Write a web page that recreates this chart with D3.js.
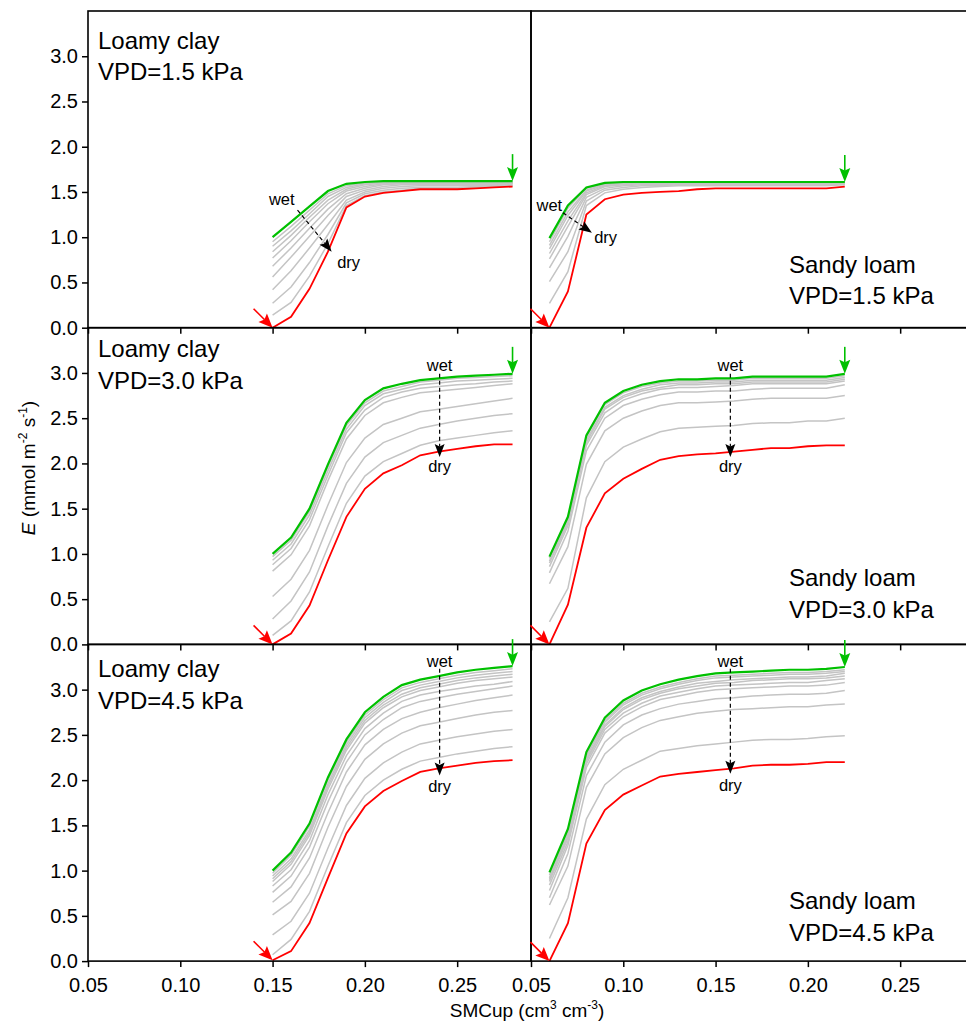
<!DOCTYPE html>
<html>
<head>
<meta charset="utf-8">
<script src="https://cdn.jsdelivr.net/npm/d3@7"></script>
<style>
  body { margin: 0; background: #fff; }
  svg { display: block; font-family: "Liberation Sans", Arial, sans-serif; }
</style>
</head>
<body>
<svg id="chart" width="966" height="1025"></svg>
<script>
// SMCup values (cm3 cm-3) for each soil.
const lcX = [0.15, 0.16, 0.17, 0.18, 0.19, 0.20, 0.21, 0.22, 0.23, 0.24, 0.25, 0.26, 0.27, 0.28];
const slX = [0.06, 0.07, 0.08, 0.09, 0.10, 0.11, 0.12, 0.13, 0.14, 0.15, 0.16, 0.17, 0.18, 0.19, 0.20, 0.21, 0.22];

const xTicks = [0.05, 0.10, 0.15, 0.20, 0.25];
const yTicks = [0, 0.5, 1.0, 1.5, 2.0, 2.5, 3.0];

// Loamy clay, VPD = 1.5 kPa
const lc15Green = [1.00, 1.17, 1.34, 1.51, 1.59, 1.61, 1.62, 1.62, 1.62, 1.62, 1.62, 1.62, 1.62, 1.62];
const lc15Red = [0.00, 0.12, 0.43, 0.84, 1.33, 1.45, 1.49, 1.51, 1.53, 1.53, 1.53, 1.54, 1.55, 1.56];
const lc15Gray = [
  [0.95, 1.12, 1.30, 1.48, 1.57, 1.60, 1.61, 1.61, 1.61, 1.61, 1.61, 1.61, 1.61, 1.61],
  [0.90, 1.07, 1.26, 1.45, 1.55, 1.59, 1.60, 1.61, 1.61, 1.61, 1.61, 1.61, 1.61, 1.61],
  [0.84, 1.02, 1.22, 1.41, 1.53, 1.58, 1.60, 1.60, 1.60, 1.60, 1.60, 1.60, 1.60, 1.60],
  [0.77, 0.96, 1.17, 1.37, 1.51, 1.56, 1.59, 1.60, 1.60, 1.60, 1.60, 1.60, 1.60, 1.60],
  [0.68, 0.88, 1.10, 1.31, 1.48, 1.54, 1.58, 1.59, 1.59, 1.59, 1.59, 1.59, 1.59, 1.59],
  [0.56, 0.78, 1.01, 1.24, 1.45, 1.52, 1.56, 1.58, 1.58, 1.58, 1.58, 1.58, 1.58, 1.59],
  [0.42, 0.63, 0.88, 1.14, 1.41, 1.50, 1.54, 1.56, 1.57, 1.57, 1.57, 1.57, 1.57, 1.58],
  [0.27, 0.45, 0.72, 1.03, 1.38, 1.48, 1.52, 1.54, 1.55, 1.55, 1.55, 1.56, 1.57, 1.57],
  [0.14, 0.28, 0.57, 0.93, 1.35, 1.46, 1.50, 1.52, 1.54, 1.54, 1.54, 1.55, 1.56, 1.57]
];

// Sandy loam, VPD = 1.5 kPa
const sl15Green = [0.99, 1.35, 1.55, 1.60, 1.61, 1.61, 1.61, 1.61, 1.61, 1.61, 1.61, 1.61, 1.61, 1.61, 1.61, 1.61, 1.61];
const sl15Red = [0.00, 0.40, 1.25, 1.42, 1.47, 1.49, 1.50, 1.51, 1.53, 1.54, 1.54, 1.54, 1.54, 1.54, 1.54, 1.54, 1.56];
const sl15Gray = [
  [0.95, 1.32, 1.54, 1.59, 1.61, 1.61, 1.61, 1.61, 1.61, 1.61, 1.61, 1.61, 1.61, 1.61, 1.61, 1.61, 1.61],
  [0.91, 1.28, 1.52, 1.59, 1.60, 1.61, 1.61, 1.61, 1.61, 1.61, 1.61, 1.61, 1.61, 1.61, 1.61, 1.61, 1.61],
  [0.87, 1.24, 1.51, 1.58, 1.60, 1.60, 1.60, 1.60, 1.60, 1.60, 1.60, 1.60, 1.60, 1.60, 1.60, 1.60, 1.60],
  [0.82, 1.18, 1.49, 1.57, 1.59, 1.60, 1.60, 1.60, 1.60, 1.60, 1.60, 1.60, 1.60, 1.60, 1.60, 1.60, 1.60],
  [0.76, 1.12, 1.47, 1.56, 1.58, 1.59, 1.59, 1.59, 1.59, 1.59, 1.59, 1.59, 1.59, 1.59, 1.59, 1.59, 1.60],
  [0.66, 1.01, 1.44, 1.54, 1.57, 1.58, 1.58, 1.59, 1.59, 1.59, 1.59, 1.59, 1.59, 1.59, 1.59, 1.59, 1.59],
  [0.51, 0.84, 1.40, 1.52, 1.55, 1.57, 1.57, 1.58, 1.58, 1.58, 1.58, 1.58, 1.58, 1.58, 1.58, 1.58, 1.59],
  [0.27, 0.62, 1.35, 1.49, 1.53, 1.55, 1.56, 1.57, 1.57, 1.57, 1.57, 1.57, 1.57, 1.57, 1.57, 1.57, 1.58]
];

// Loamy clay, VPD = 3.0 kPa
const lc30Green = [1.00, 1.18, 1.50, 1.99, 2.45, 2.70, 2.83, 2.88, 2.92, 2.94, 2.96, 2.97, 2.98, 2.99];
const lc30Red = [0.00, 0.12, 0.43, 0.93, 1.41, 1.72, 1.89, 1.98, 2.09, 2.13, 2.16, 2.19, 2.21, 2.21];
const lc30Gray = [
  [0.97, 1.15, 1.47, 1.96, 2.42, 2.67, 2.80, 2.85, 2.90, 2.92, 2.94, 2.95, 2.96, 2.97],
  [0.93, 1.11, 1.43, 1.92, 2.38, 2.64, 2.77, 2.82, 2.87, 2.89, 2.91, 2.92, 2.93, 2.94],
  [0.88, 1.06, 1.38, 1.87, 2.34, 2.59, 2.73, 2.79, 2.83, 2.85, 2.87, 2.88, 2.90, 2.91],
  [0.81, 0.99, 1.31, 1.81, 2.27, 2.53, 2.67, 2.73, 2.78, 2.80, 2.82, 2.84, 2.86, 2.88],
  [0.53, 0.72, 1.04, 1.54, 2.01, 2.28, 2.43, 2.50, 2.57, 2.60, 2.63, 2.66, 2.69, 2.72],
  [0.28, 0.48, 0.80, 1.31, 1.78, 2.07, 2.23, 2.31, 2.39, 2.43, 2.47, 2.50, 2.53, 2.55],
  [0.10, 0.26, 0.58, 1.08, 1.56, 1.86, 2.02, 2.11, 2.20, 2.25, 2.28, 2.31, 2.34, 2.36]
];

// Sandy loam, VPD = 3.0 kPa
const sl30Green = [0.97, 1.41, 2.31, 2.67, 2.80, 2.87, 2.91, 2.93, 2.93, 2.94, 2.94, 2.96, 2.96, 2.96, 2.96, 2.96, 2.99];
const sl30Red = [0.00, 0.44, 1.29, 1.67, 1.83, 1.94, 2.04, 2.08, 2.10, 2.11, 2.13, 2.15, 2.17, 2.17, 2.19, 2.20, 2.20];
const sl30Gray = [
  [0.95, 1.39, 2.29, 2.65, 2.78, 2.85, 2.89, 2.91, 2.91, 2.92, 2.92, 2.94, 2.94, 2.94, 2.94, 2.94, 2.97],
  [0.92, 1.36, 2.26, 2.62, 2.75, 2.82, 2.87, 2.89, 2.89, 2.90, 2.90, 2.92, 2.92, 2.92, 2.92, 2.92, 2.95],
  [0.90, 1.34, 2.23, 2.60, 2.73, 2.80, 2.84, 2.87, 2.87, 2.88, 2.88, 2.90, 2.90, 2.90, 2.90, 2.90, 2.93],
  [0.86, 1.31, 2.20, 2.56, 2.70, 2.77, 2.82, 2.84, 2.84, 2.85, 2.86, 2.88, 2.88, 2.88, 2.88, 2.88, 2.91],
  [0.79, 1.25, 2.14, 2.50, 2.64, 2.71, 2.76, 2.79, 2.79, 2.80, 2.80, 2.82, 2.83, 2.83, 2.83, 2.83, 2.87],
  [0.67, 1.08, 1.99, 2.36, 2.50, 2.58, 2.64, 2.67, 2.67, 2.68, 2.69, 2.71, 2.72, 2.72, 2.72, 2.72, 2.75],
  [0.25, 0.62, 1.62, 2.02, 2.18, 2.27, 2.35, 2.39, 2.40, 2.41, 2.42, 2.44, 2.45, 2.45, 2.47, 2.47, 2.50]
];

// Loamy clay, VPD = 4.5 kPa
const lc45Green = [1.00, 1.20, 1.52, 2.03, 2.45, 2.75, 2.92, 3.05, 3.11, 3.15, 3.19, 3.22, 3.24, 3.26];
const lc45Red = [0.01, 0.11, 0.42, 0.92, 1.41, 1.71, 1.88, 1.99, 2.09, 2.13, 2.16, 2.19, 2.21, 2.22];
const lc45Gray = [
  [0.97, 1.17, 1.49, 2.00, 2.42, 2.72, 2.89, 3.02, 3.08, 3.12, 3.16, 3.19, 3.21, 3.23],
  [0.94, 1.13, 1.45, 1.96, 2.39, 2.69, 2.86, 2.99, 3.05, 3.09, 3.13, 3.16, 3.18, 3.20],
  [0.91, 1.10, 1.42, 1.93, 2.36, 2.66, 2.83, 2.95, 3.02, 3.06, 3.10, 3.13, 3.15, 3.17],
  [0.88, 1.07, 1.39, 1.90, 2.33, 2.63, 2.80, 2.92, 2.99, 3.03, 3.07, 3.10, 3.12, 3.14],
  [0.83, 1.01, 1.33, 1.84, 2.27, 2.57, 2.74, 2.87, 2.94, 2.98, 3.01, 3.04, 3.06, 3.09],
  [0.76, 0.94, 1.26, 1.76, 2.20, 2.50, 2.67, 2.80, 2.87, 2.91, 2.95, 2.98, 3.01, 3.04],
  [0.65, 0.82, 1.14, 1.64, 2.09, 2.39, 2.56, 2.68, 2.75, 2.80, 2.84, 2.88, 2.91, 2.94],
  [0.51, 0.66, 0.97, 1.48, 1.93, 2.23, 2.40, 2.52, 2.60, 2.64, 2.68, 2.72, 2.75, 2.77],
  [0.29, 0.44, 0.75, 1.25, 1.72, 2.02, 2.19, 2.31, 2.40, 2.44, 2.48, 2.51, 2.54, 2.56],
  [0.07, 0.24, 0.55, 1.05, 1.53, 1.83, 2.00, 2.12, 2.21, 2.25, 2.29, 2.32, 2.35, 2.37]
];

// Sandy loam, VPD = 4.5 kPa
const sl45Green = [0.98, 1.46, 2.31, 2.69, 2.88, 2.99, 3.06, 3.11, 3.15, 3.18, 3.19, 3.20, 3.21, 3.22, 3.22, 3.23, 3.25];
const sl45Red = [0.00, 0.42, 1.30, 1.67, 1.84, 1.94, 2.04, 2.07, 2.09, 2.11, 2.13, 2.16, 2.17, 2.17, 2.18, 2.20, 2.20];
const sl45Gray = [
  [0.95, 1.43, 2.28, 2.66, 2.85, 2.96, 3.03, 3.08, 3.12, 3.15, 3.16, 3.17, 3.18, 3.19, 3.19, 3.20, 3.22],
  [0.92, 1.41, 2.26, 2.64, 2.83, 2.94, 3.01, 3.06, 3.10, 3.13, 3.14, 3.15, 3.16, 3.17, 3.17, 3.18, 3.20],
  [0.90, 1.38, 2.23, 2.61, 2.80, 2.91, 2.98, 3.03, 3.07, 3.09, 3.11, 3.12, 3.13, 3.14, 3.14, 3.15, 3.18],
  [0.88, 1.36, 2.21, 2.59, 2.78, 2.89, 2.96, 3.01, 3.04, 3.07, 3.08, 3.10, 3.11, 3.12, 3.12, 3.13, 3.15],
  [0.84, 1.32, 2.18, 2.56, 2.74, 2.85, 2.93, 2.97, 3.01, 3.04, 3.05, 3.06, 3.07, 3.08, 3.08, 3.10, 3.12],
  [0.78, 1.28, 2.14, 2.52, 2.70, 2.81, 2.89, 2.93, 2.97, 3.00, 3.01, 3.02, 3.03, 3.04, 3.04, 3.05, 3.08],
  [0.70, 1.19, 2.05, 2.42, 2.61, 2.72, 2.79, 2.84, 2.87, 2.90, 2.91, 2.93, 2.94, 2.95, 2.95, 2.96, 2.99],
  [0.62, 1.05, 1.92, 2.29, 2.47, 2.58, 2.66, 2.70, 2.74, 2.76, 2.78, 2.79, 2.80, 2.81, 2.81, 2.83, 2.84],
  [0.25, 0.70, 1.57, 1.95, 2.12, 2.22, 2.32, 2.35, 2.38, 2.40, 2.42, 2.44, 2.45, 2.45, 2.46, 2.48, 2.49]
];

// Wet -> dry arrows, in data units: [x1, y1, x2, y2], then label spots.
const lc15Arrow = { line: [0.1635, 1.30, 0.182, 0.84], wet: [0.148, 1.36, 'start'], dry: [0.185, 0.66, 'start'] };
const sl15Arrow = { line: [0.0673, 1.27, 0.083, 1.05], wet: [0.053, 1.29, 'start'], dry: [0.0842, 0.94, 'start'] };
const lc30Arrow = { line: [0.2405, 2.99, 0.2405, 2.07], wet: [0.2405, 3.02, 'middle'], dry: [0.2405, 1.90, 'middle'] };
const sl30Arrow = { line: [0.158, 2.99, 0.158, 2.07], wet: [0.158, 3.02, 'middle'], dry: [0.158, 1.90, 'middle'] };
const lc45Arrow = { line: [0.2405, 3.23, 0.2405, 2.05], wet: [0.2405, 3.25, 'middle'], dry: [0.2405, 1.87, 'middle'] };
const sl45Arrow = { line: [0.158, 3.23, 0.158, 2.07], wet: [0.158, 3.25, 'middle'], dry: [0.158, 1.88, 'middle'] };

const panels = [
  { row: 0, col: 0, x: lcX, green: lc15Green, red: lc15Red, gray: lc15Gray, soil: 'Loamy clay', vpd: 'VPD=1.5 kPa', arrow: lc15Arrow },
  { row: 0, col: 1, x: slX, green: sl15Green, red: sl15Red, gray: sl15Gray, soil: 'Sandy loam', vpd: 'VPD=1.5 kPa', arrow: sl15Arrow },
  { row: 1, col: 0, x: lcX, green: lc30Green, red: lc30Red, gray: lc30Gray, soil: 'Loamy clay', vpd: 'VPD=3.0 kPa', arrow: lc30Arrow },
  { row: 1, col: 1, x: slX, green: sl30Green, red: sl30Red, gray: sl30Gray, soil: 'Sandy loam', vpd: 'VPD=3.0 kPa', arrow: sl30Arrow },
  { row: 2, col: 0, x: lcX, green: lc45Green, red: lc45Red, gray: lc45Gray, soil: 'Loamy clay', vpd: 'VPD=4.5 kPa', arrow: lc45Arrow },
  { row: 2, col: 1, x: slX, green: sl45Green, red: sl45Red, gray: sl45Gray, soil: 'Sandy loam', vpd: 'VPD=4.5 kPa', arrow: sl45Arrow }
];

const svg = d3.select('#chart');
const colLeft = [88, 531];
const colW = 443;
const rowTop = 11;
const rowH = 316.7;

// Where the soil / VPD labels sit in each row (first baseline).
const leftLabelY = [37.5, 29.5, 33];
const rightLabelY = [-55, -58, -52];

const x = d3.scaleLinear().domain([0.05, 0.29]).range([0, colW]);
const y = d3.scaleLinear().domain([0, 3.5]).range([rowH, 0]);

// Straight arrow with a filled head at (x2, y2).
function arrow(g, x1, y1, x2, y2, color, opts = {}) {
  const len = opts.len || 10;
  const w = opts.w || 8;
  const ang = Math.atan2(y2 - y1, x2 - x1);
  const ux = Math.cos(ang), uy = Math.sin(ang);
  g.append('line')
    .attr('x1', x1).attr('y1', y1)
    .attr('x2', x2 - ux * len * 0.8).attr('y2', y2 - uy * len * 0.8)
    .attr('stroke', color)
    .attr('stroke-width', opts.width || 1.5)
    .attr('stroke-dasharray', opts.dash || null);
  const bx = x2 - ux * len, by = y2 - uy * len;
  const nx = x2 - ux * len * 0.82, ny = y2 - uy * len * 0.82;
  const pts = [
    [x2, y2],
    [bx - uy * w / 2, by + ux * w / 2],
    [nx, ny],
    [bx + uy * w / 2, by - ux * w / 2]
  ];
  g.append('path')
    .attr('d', 'M' + pts.map(p => p.join(',')).join('L') + 'Z')
    .attr('fill', color);
}

panels.forEach(p => {
  const g = svg.append('g')
    .attr('transform', `translate(${colLeft[p.col]},${rowTop + p.row * rowH})`);

  const line = d3.line()
    .x((d, i) => x(p.x[i]))
    .y(d => y(d));

  g.selectAll('path.gray')
    .data(p.gray)
    .enter().append('path')
    .attr('class', 'gray')
    .attr('d', line)
    .attr('fill', 'none')
    .attr('stroke', '#c4c4c4')
    .attr('stroke-width', 1.5);

  g.append('path')
    .attr('d', line(p.red))
    .attr('fill', 'none')
    .attr('stroke', '#ff0000')
    .attr('stroke-width', 1.8);

  g.append('path')
    .attr('d', line(p.green))
    .attr('fill', 'none')
    .attr('stroke', '#00c000')
    .attr('stroke-width', 2.2);

  // Frame
  g.append('rect')
    .attr('width', colW)
    .attr('height', rowH)
    .attr('fill', 'none')
    .attr('stroke', '#000')
    .attr('stroke-width', 1.6);

  // x axis, labels only under the bottom row
  const xAxis = g.append('g')
    .attr('transform', `translate(0,${rowH})`)
    .call(d3.axisBottom(x)
      .tickValues(xTicks)
      .tickSize(6)
      .tickSizeOuter(0)
      .tickPadding(11)
      .tickFormat(p.row === 2 ? d3.format('.2f') : () => ''));
  xAxis.select('.domain').remove();
  xAxis.selectAll('line').attr('stroke-width', 1.5);
  xAxis.attr('font-size', 20).attr('font-family', null);

  if (p.col === 0) {
    const yAxis = g.append('g')
      .call(d3.axisLeft(y)
        .tickValues(yTicks)
        .tickSize(6)
        .tickSizeOuter(0)
        .tickPadding(4)
        .tickFormat(d3.format('.1f')));
    yAxis.select('.domain').remove();
    yAxis.selectAll('line').attr('stroke-width', 1.5);
    yAxis.attr('font-size', 20).attr('font-family', null);
  }

  // Red arrow at the first dry point, green arrow at the last wet point
  const rx = x(p.x[0]), ry = y(p.red[0]);
  arrow(g, rx - 19, ry - 19, rx, ry, '#ff0000', { width: 1.6, len: 14, w: 12 });
  const last = p.x.length - 1;
  const gx = x(p.x[last]), gy = y(p.green[last]);
  arrow(g, gx, gy - 27, gx, gy, '#00c000', { width: 1.6, len: 14, w: 11 });

  // Wet -> dry dashed arrow
  const a = p.arrow;
  arrow(g, x(a.line[0]), y(a.line[1]), x(a.line[2]), y(a.line[3]), '#000',
    { width: 1.2, dash: '4,3', len: 13, w: 10 });
  g.append('text')
    .attr('x', x(a.wet[0])).attr('y', y(a.wet[1]))
    .attr('text-anchor', a.wet[2])
    .attr('font-size', 16.5)
    .text('wet');
  g.append('text')
    .attr('x', x(a.dry[0])).attr('y', y(a.dry[1]))
    .attr('text-anchor', a.dry[2])
    .attr('font-size', 16.5)
    .text('dry');

  // Panel labels
  const lx = p.col === 0 ? 10 : 258;
  const ly = p.col === 0 ? leftLabelY[p.row] : rowH + rightLabelY[p.row];
  const lbl = g.append('text').attr('font-size', 24);
  lbl.append('tspan').attr('x', lx).attr('y', ly).text(p.soil);
  lbl.append('tspan').attr('x', lx).attr('y', ly + 31.5).text(p.vpd);
});

// Axis titles
const xTitle = svg.append('text')
  .attr('x', 527)
  .attr('y', 1017)
  .attr('text-anchor', 'middle')
  .attr('font-size', 19);
xTitle.append('tspan').text('SMCup (cm');
xTitle.append('tspan').attr('font-size', 12).attr('dy', -8).text('3');
xTitle.append('tspan').attr('dy', 8).text(' cm');
xTitle.append('tspan').attr('font-size', 12).attr('dy', -8).text('-3');
xTitle.append('tspan').attr('dy', 8).text(')');

const yTitle = svg.append('text')
  .attr('transform', 'translate(35,468) rotate(-90)')
  .attr('text-anchor', 'middle')
  .attr('font-size', 19);
yTitle.append('tspan').attr('font-style', 'italic').text('E');
yTitle.append('tspan').text(' (mmol m');
yTitle.append('tspan').attr('font-size', 12).attr('dy', -8).text('-2');
yTitle.append('tspan').attr('dy', 8).text(' s');
yTitle.append('tspan').attr('font-size', 12).attr('dy', -8).text('-1');
yTitle.append('tspan').attr('dy', 8).text(')');
</script>
</body>
</html>
